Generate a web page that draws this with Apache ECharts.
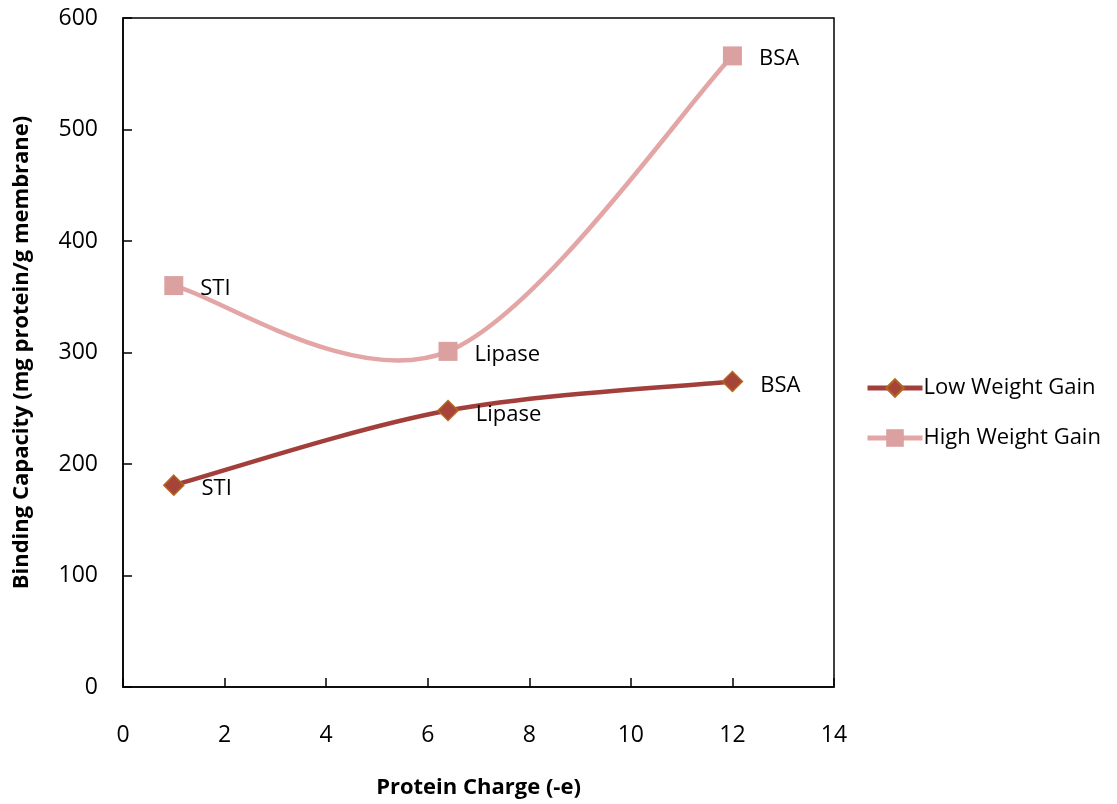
<!DOCTYPE html>
<html>
<head>
<meta charset="utf-8">
<script src="https://cdn.jsdelivr.net/npm/echarts@6/dist/echarts.min.js"></script>
<style>
html,body{margin:0;padding:0;background:#fff;}
#chart{width:1117px;height:804px;}
</style>
</head>
<body>
<div id="chart"></div>
<script>
const proteinNames = ['STI', 'Lipase', 'BSA'];
const proteinCharge = [1, 6.4, 12];
const lowWeightGain = [181, 248, 274];
const highWeightGain = [360, 301, 566];
const xTicks = [0, 2, 4, 6, 8, 10, 12, 14];
const yTicks = [0, 100, 200, 300, 400, 500, 600];

const FONT = '"Open Sans", Lato, sans-serif';
const LOW_COLOR = '#A23F3A';
const HIGH_COLOR = '#E3A5A5';

function build(vals) {
  return proteinCharge.map((x, i) => ({ value: [x, vals[i]], name: proteinNames[i] }));
}

// Excel-style smoothed curve (Catmull-Rom bezier) drawn through the axes' scales
function smoothCurve(vals, color, z) {
  return {
    type: 'custom',
    silent: true,
    z: z,
    data: proteinCharge.map((x, i) => [x, vals[i]]),
    renderItem: function (params, api) {
      const i = params.dataIndex;
      const n = proteinCharge.length;
      if (i >= n - 1) return null;
      const pt = k => api.coord([proteinCharge[Math.max(0, Math.min(n - 1, k))], vals[Math.max(0, Math.min(n - 1, k))]]);
      const p0 = pt(i - 1), p1 = pt(i), p2 = pt(i + 1), p3 = pt(i + 2);
      const cp1 = [p1[0] + (p2[0] - p0[0]) / 6, p1[1] + (p2[1] - p0[1]) / 6];
      const cp2 = [p2[0] - (p3[0] - p1[0]) / 6, p2[1] - (p3[1] - p1[1]) / 6];
      return {
        type: 'bezierCurve',
        shape: { x1: p1[0], y1: p1[1], x2: p2[0], y2: p2[1], cpx1: cp1[0], cpy1: cp1[1], cpx2: cp2[0], cpy2: cp2[1] },
        style: { stroke: color, lineWidth: 4.5, fill: null, lineCap: 'round' }
      };
    }
  };
}

const chart = echarts.init(document.getElementById('chart'));
chart.setOption({
  backgroundColor: '#ffffff',
  animation: false,
  grid: { left: 123, right: 283, top: 18, bottom: 112, show: true, borderColor: '#000', borderWidth: 1.5 },
  legend: {
    orient: 'vertical',
    left: 860,
    top: 372,
    itemGap: 28,
    itemWidth: 55,
    itemHeight: 22,
    textStyle: { fontFamily: FONT, fontSize: 22, color: '#000', padding: [0, 0, 0, -4] },
    data: [
      { name: 'Low Weight Gain', lineStyle: { color: LOW_COLOR, width: 5, opacity: 1 } },
      { name: 'High Weight Gain', lineStyle: { color: HIGH_COLOR, width: 5, opacity: 1 } }
    ]
  },
  xAxis: {
    type: 'value',
    min: 0, max: 14, interval: 2,
    name: 'Protein Charge (-e)',
    nameLocation: 'middle',
    nameGap: 90,
    nameTextStyle: { fontFamily: FONT, fontSize: 22, fontWeight: 'bold', color: '#000' },
    axisLine: { lineStyle: { color: '#000', width: 1.5 } },
    axisTick: { inside: true, length: 9, lineStyle: { color: '#000', width: 1.5 } },
    axisLabel: { fontFamily: FONT, fontSize: 23, color: '#000', margin: 37,
      formatter: v => xTicks.includes(v) ? String(v) : '' },
    splitLine: { show: false }
  },
  yAxis: {
    type: 'value',
    min: 0, max: 600, interval: 100,
    name: 'Binding Capacity (mg protein/g membrane)',
    nameLocation: 'middle',
    nameGap: 90,
    nameTextStyle: { fontFamily: FONT, fontSize: 22, fontWeight: 'bold', color: '#000' },
    axisLine: { show: true, lineStyle: { color: '#000', width: 1.5 } },
    axisTick: { show: true, inside: true, length: 9, lineStyle: { color: '#000', width: 1.5 } },
    axisLabel: { fontFamily: FONT, fontSize: 23, color: '#000', margin: 25,
      formatter: v => yTicks.includes(v) ? String(v) : '' },
    splitLine: { show: false }
  },
  series: [
    smoothCurve(highWeightGain, HIGH_COLOR, 1),
    smoothCurve(lowWeightGain, LOW_COLOR, 2),
    {
      name: 'Low Weight Gain',
      type: 'line',
      data: build(lowWeightGain),
      symbol: 'diamond',
      symbolSize: 20,
      lineStyle: { color: LOW_COLOR, width: 5, opacity: 0 },
      itemStyle: { color: '#A6443A', borderColor: '#B3671E', borderWidth: 1.5 },
      label: { show: true, position: 'right', distance: 17, offset: [0, 4],
        formatter: p => p.name, fontFamily: FONT, fontSize: 22, color: '#000' },
      z: 4
    },
    {
      name: 'High Weight Gain',
      type: 'line',
      data: build(highWeightGain),
      symbol: 'rect',
      symbolSize: 19,
      lineStyle: { color: HIGH_COLOR, width: 5, opacity: 0 },
      itemStyle: { color: '#DBA0A0', borderWidth: 0 },
      label: { show: true, position: 'right', distance: 17, offset: [0, 3],
        formatter: p => p.name, fontFamily: FONT, fontSize: 22, color: '#000' },
      z: 3
    }
  ]
});
</script>
</body>
</html>
